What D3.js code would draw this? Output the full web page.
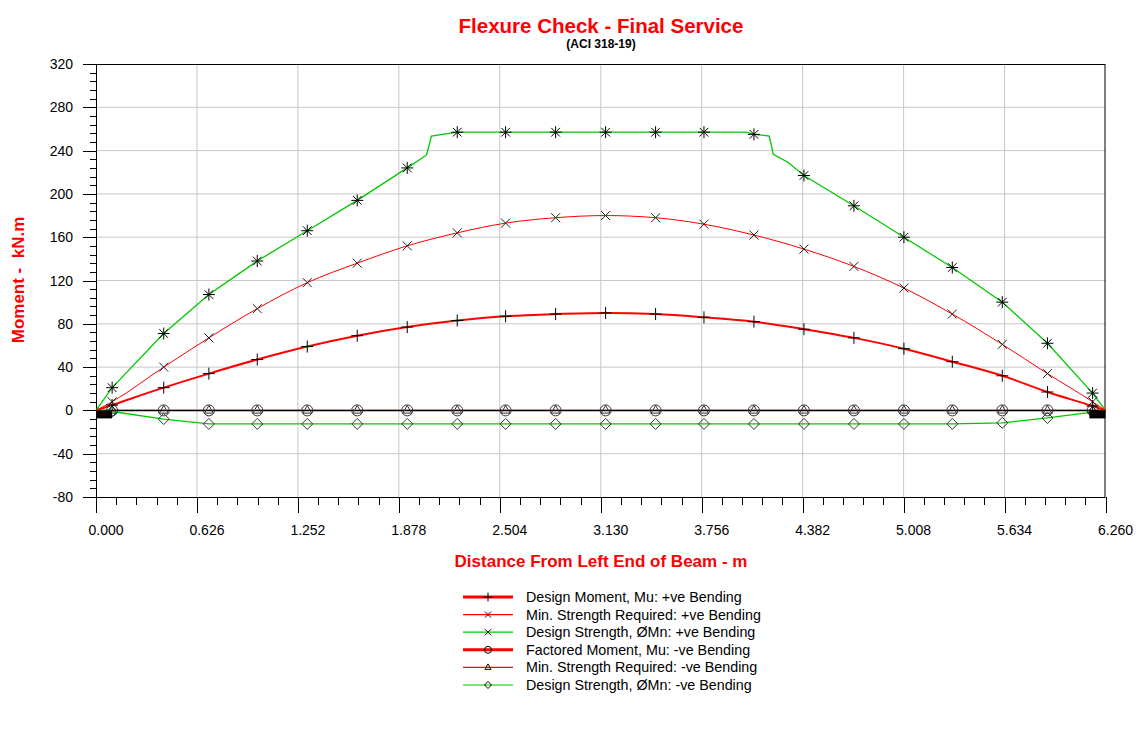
<!DOCTYPE html>
<html>
<head>
<meta charset="utf-8">
<script src="https://cdn.jsdelivr.net/npm/d3@7"></script>
<style>
  html, body { margin: 0; padding: 0; background: #fff; }
  svg { display: block; font-family: "Liberation Sans", Arial, sans-serif; }
</style>
</head>
<body>
<svg id="chart" width="1147" height="732"></svg>
<script>
// ---------------- DATA ----------------
const title = "Flexure Check - Final Service";
const subtitle = "(ACI 318-19)";
const xAxisTitle = "Distance From Left End of Beam - m";
const yAxisTitle = "Moment -  kN.m";

const spanLength = 6.26;
const xTickValues = [0, 0.626, 1.252, 1.878, 2.504, 3.130, 3.756, 4.382, 5.008, 5.634, 6.260];
const xTickLabels = ["0.000", "0.626", "1.252", "1.878", "2.504", "3.130", "3.756", "4.382", "5.008", "5.634", "6.260"];
const yTickValues = [-80, -40, 0, 40, 80, 120, 160, 200, 240, 280, 320];
const yTickLabels = ["-80", "-40", "0", "40", "80", "120", "160", "200", "240", "280", "320"];

// stations where the markers sit (m)
const stations = [0.10, 0.42, 0.70, 1.00, 1.31, 1.62, 1.93, 2.24, 2.54, 2.85, 3.16, 3.47, 3.77, 4.08, 4.39, 4.70, 5.01, 5.31, 5.62, 5.90, 6.18];

// +ve bending (kN.m)
const designMomentPos   = [5, 21, 34, 47, 59, 69, 77, 83, 87, 89, 90, 89, 86, 82, 75, 67, 57, 45, 32, 17, 4];
const minStrengthPos    = [8, 40, 67, 94, 118, 136, 152, 164, 173, 178, 180, 178, 172, 162, 149, 133, 113, 89, 61, 34, 8];
const designStrengthPos = [21, 71, 107, 138, 166, 194, 224, 257, 257, 257, 257, 257, 257, 255, 217, 189, 160, 132, 100, 62, 16];
// extra break points of the +ve design strength line (bar cut-off zones)
const designStrengthPosBreakX = [2.05, 2.08, 4.03, 4.175, 4.20, 4.29];
const designStrengthPosBreakY = [236, 253.5, 257, 253.5, 236.6, 229.2];

// -ve bending (kN.m)
const factoredMomentNeg = [0, 0, 0, 0, 0, 0, 0, 0, 0, 0, 0, 0, 0, 0, 0, 0, 0, 0, 0, 0, 0];
const minStrengthNeg    = [0, 0, 0, 0, 0, 0, 0, 0, 0, 0, 0, 0, 0, 0, 0, 0, 0, 0, 0, 0, 0];
const designStrengthNeg = [-1, -8, -12.5, -12.5, -12.5, -12.5, -12.5, -12.5, -12.5, -12.5, -12.5, -12.5, -12.5, -12.5, -12.5, -12.5, -12.5, -12.5, -11.5, -7, -1.5];

// supports (m)
const supportFrom = [0, 6.16];
const supportTo   = [0.10, 6.26];

const legendLabels = [
  "Design Moment, Mu: +ve Bending",
  "Min. Strength Required: +ve Bending",
  "Design Strength, \u00D8Mn: +ve Bending",
  "Factored Moment, Mu: -ve Bending",
  "Min. Strength Required: -ve Bending",
  "Design Strength, \u00D8Mn: -ve Bending"
];

// ---------------- LAYOUT ----------------
const svg = d3.select("#chart");
const plot = { left: 96, right: 1105.5, top: 64, bottom: 497 };
const RED = "#ff0000", GREEN = "#00c800", GRID = "#c8c8c8";

const x = d3.scaleLinear().domain([0, spanLength]).range([plot.left, plot.right]);
const y = d3.scaleLinear().domain([-80, 320]).range([plot.bottom, plot.top]);

// grid
const gGrid = svg.append("g");
gGrid.selectAll("line.vg").data(xTickValues.slice(1, -1)).join("line")
  .attr("x1", d => x(d)).attr("x2", d => x(d))
  .attr("y1", plot.top).attr("y2", plot.bottom)
  .attr("stroke", GRID).attr("stroke-width", 1);
gGrid.selectAll("line.hg").data(yTickValues.filter(v => v !== 0 && v !== -80 && v !== 320)).join("line")
  .attr("x1", plot.left).attr("x2", plot.right)
  .attr("y1", d => y(d)).attr("y2", d => y(d))
  .attr("stroke", GRID).attr("stroke-width", 1);

// axes (ticks)
const yMinor = d3.range(-80, 321, 8);
const xMinor = d3.range(0, 51).map(i => i * spanLength / 50);

const gAxes = svg.append("g").attr("stroke", "#000").attr("stroke-width", 1);
gAxes.selectAll("line.ymin").data(yMinor).join("line")
  .attr("x1", plot.left - 6).attr("x2", plot.left)
  .attr("y1", d => Math.round(y(d)) + 0.5).attr("y2", d => Math.round(y(d)) + 0.5);
gAxes.selectAll("line.ymaj").data(yTickValues).join("line")
  .attr("x1", plot.left - 13).attr("x2", plot.left)
  .attr("y1", d => Math.round(y(d)) + 0.5).attr("y2", d => Math.round(y(d)) + 0.5);
gAxes.selectAll("line.xmin").data(xMinor).join("line")
  .attr("x1", d => Math.round(x(d)) + 0.5).attr("x2", d => Math.round(x(d)) + 0.5)
  .attr("y1", plot.bottom).attr("y2", plot.bottom + 8);
gAxes.selectAll("line.xmaj").data(xTickValues).join("line")
  .attr("x1", d => Math.round(x(d)) + 0.5).attr("x2", d => Math.round(x(d)) + 0.5)
  .attr("y1", plot.bottom).attr("y2", plot.bottom + 16);

svg.append("g").selectAll("text").data(yTickValues).join("text")
  .attr("x", 73).attr("y", d => y(d) + 5)
  .attr("text-anchor", "end").attr("font-size", 14).attr("fill", "#000")
  .text((d, i) => yTickLabels[i]);
svg.append("g").selectAll("text").data(xTickValues).join("text")
  .attr("x", d => x(d) + 10).attr("y", 535)
  .attr("text-anchor", "middle").attr("font-size", 14).attr("fill", "#000")
  .text((d, i) => xTickLabels[i]);

// frame
svg.append("rect")
  .attr("x", plot.left + 0.5).attr("y", plot.top + 0.5)
  .attr("width", plot.right - plot.left - 1).attr("height", plot.bottom - plot.top)
  .attr("fill", "none").attr("stroke", "#000").attr("stroke-width", 1);

// series helpers
const pts = (vals) => [[0, 0]].concat(stations.map((s, i) => [s, vals[i]])).concat([[spanLength, 0]]);
const lineSmooth = d3.line().x(d => x(d[0])).y(d => y(d[1])).curve(d3.curveMonotoneX);
const lineLin = d3.line().x(d => x(d[0])).y(d => y(d[1]));

const gLines = svg.append("g").attr("fill", "none");
// -ve lines at zero (hidden under the zero line like the reference)
gLines.append("path").attr("d", lineLin(pts(factoredMomentNeg))).attr("stroke", RED).attr("stroke-width", 1);
gLines.append("path").attr("d", lineLin(pts(minStrengthNeg))).attr("stroke", RED).attr("stroke-width", 1);
// zero line
svg.append("line").attr("x1", plot.left).attr("x2", plot.right)
  .attr("y1", y(0)).attr("y2", y(0)).attr("stroke", "#000").attr("stroke-width", 1.5);

const gL2 = svg.append("g").attr("fill", "none");
gL2.append("path").attr("d", lineLin(pts(designStrengthNeg))).attr("stroke", GREEN).attr("stroke-width", 1.3);
const dsPts = pts(designStrengthPos).concat(designStrengthPosBreakX.map((v, i) => [v, designStrengthPosBreakY[i]]))
  .sort((a, b) => a[0] - b[0]);
gL2.append("path").attr("d", lineLin(dsPts)).attr("stroke", GREEN).attr("stroke-width", 1.3);
gL2.append("path").attr("d", lineSmooth(pts(minStrengthPos))).attr("stroke", RED).attr("stroke-width", 1);
gL2.append("path").attr("d", lineSmooth(pts(designMomentPos))).attr("stroke", RED).attr("stroke-width", 2);

// markers
const sym = {
  plus: s => `M${-s},0H${s}M0,${-s}V${s}`,
  cross: s => `M${-s},${-s}L${s},${s}M${-s},${s}L${s},${-s}`,
  star: s => `M${-s},0H${s}M0,${-s}V${s}` + `M${-s*0.72},${-s*0.72}L${s*0.72},${s*0.72}M${-s*0.72},${s*0.72}L${s*0.72},${-s*0.72}`,
  diamond: s => `M0,${-s}L${s},0L0,${s}L${-s},0Z`,
  triangle: s => `M0,${-s}L${s*0.87},${s*0.55}L${-s*0.87},${s*0.55}Z`,
  circle: s => `M${s},0A${s},${s} 0 1,1 ${-s},0A${s},${s} 0 1,1 ${s},0Z`
};
function markers(vals, kind, size, color) {
  svg.append("g").selectAll("path").data(stations).join("path")
    .attr("transform", (d, i) => `translate(${x(d)},${y(vals[i])})`)
    .attr("d", sym[kind](size))
    .attr("fill", "none").attr("stroke", color).attr("stroke-width", 1);
}
markers(designStrengthNeg, "diamond", 5.5, "#333");
markers(factoredMomentNeg, "circle", 5.5, "#333");
markers(minStrengthNeg, "triangle", 5, "#333");
markers(minStrengthPos, "cross", 4.5, "#222");
markers(designStrengthPos, "star", 6, "#000");
markers(designMomentPos, "plus", 6, "#000");

// supports
svg.append("g").selectAll("rect").data(supportFrom).join("rect")
  .attr("x", d => x(d)).attr("y", y(0))
  .attr("width", (d, i) => x(supportTo[i]) - x(d)).attr("height", 8)
  .attr("fill", "#000");

// titles
svg.append("text").attr("x", 601).attr("y", 33).attr("text-anchor", "middle")
  .attr("font-size", 20.5).attr("font-weight", "bold").attr("fill", RED).text(title);
svg.append("text").attr("x", 601).attr("y", 48).attr("text-anchor", "middle")
  .attr("font-size", 12).attr("font-weight", "bold").attr("fill", "#000").text(subtitle);
svg.append("text").attr("x", 601).attr("y", 567).attr("text-anchor", "middle")
  .attr("font-size", 17).attr("font-weight", "bold").attr("fill", RED).text(xAxisTitle);
svg.append("text").attr("transform", "translate(24,280) rotate(-90)").attr("text-anchor", "middle")
  .attr("font-size", 17).attr("font-weight", "bold").attr("fill", RED)
  .style("white-space", "pre").attr("xml:space", "preserve").text(yAxisTitle);

// legend
const legendStyles = [
  { color: RED, width: 3, kind: "plus", size: 4.5 },
  { color: RED, width: 1.2, kind: "cross", size: 3 },
  { color: GREEN, width: 1.2, kind: "cross", size: 3 },
  { color: RED, width: 3, kind: "circle", size: 3.5 },
  { color: RED, width: 1.2, kind: "triangle", size: 3.5 },
  { color: GREEN, width: 1.2, kind: "diamond", size: 3.5 }
];
const lg = svg.append("g").selectAll("g").data(legendLabels).join("g")
  .attr("transform", (d, i) => `translate(0,${597 + i * 17.6})`);
lg.append("line").attr("x1", 463).attr("x2", 513).attr("y1", 0).attr("y2", 0)
  .attr("stroke", (d, i) => legendStyles[i].color).attr("stroke-width", (d, i) => legendStyles[i].width);
lg.append("path").attr("transform", "translate(488,0)")
  .attr("d", (d, i) => sym[legendStyles[i].kind](legendStyles[i].size))
  .attr("fill", "none").attr("stroke", "#000").attr("stroke-width", 1);
lg.append("text").attr("x", 526).attr("y", 5).attr("font-size", 14.3).attr("fill", "#000").text(d => d);
</script>
</body>
</html>
